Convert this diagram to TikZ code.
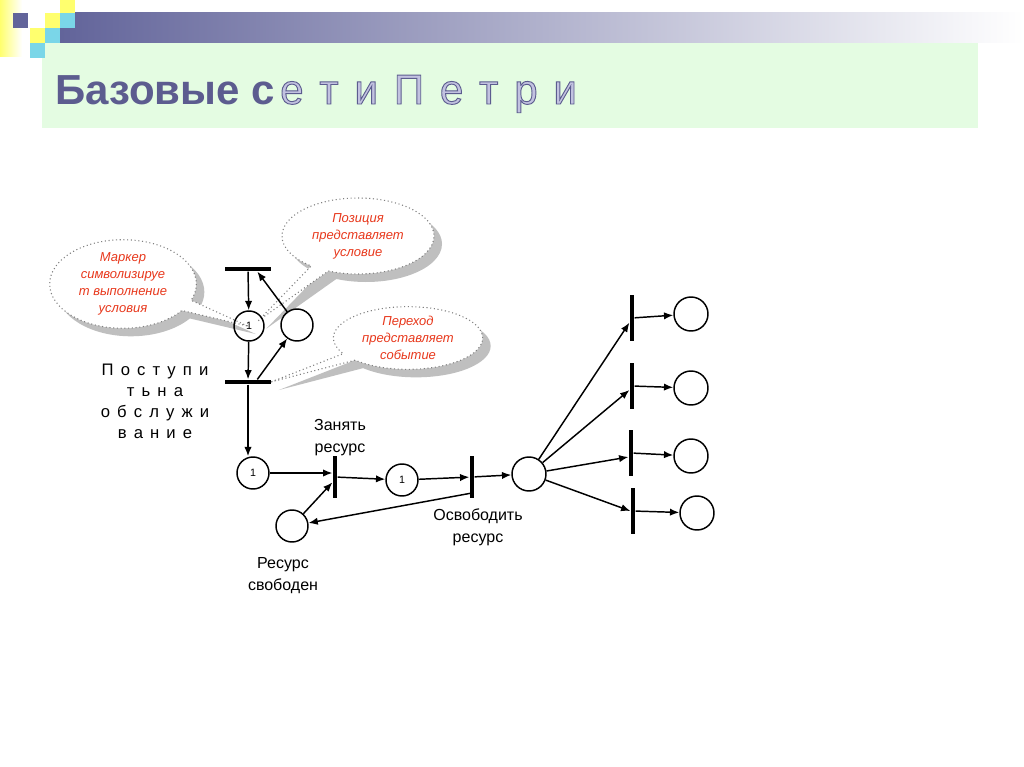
\documentclass[tikz,border=0pt]{standalone}
\usepackage{fontspec}
\setmainfont{Liberation Sans}
\newfontfamily\titlespaced[LetterSpace=10]{Liberation Sans}
\newfontfamily\spacedfont[LetterSpace=15]{Liberation Sans}
\usetikzlibrary{arrows.meta,shapes.callouts,shadows,backgrounds}

\definecolor{hdrblue}{RGB}{98,100,154}
\definecolor{hdrgreen}{RGB}{228,252,226}
\definecolor{hdryellow}{RGB}{255,255,110}
\definecolor{hdrcyan}{RGB}{122,214,232}
\definecolor{titleblue}{RGB}{92,92,143}
\definecolor{notered}{RGB}{232,56,28}

\newcommand\outlined[1]{\special{pdf:literal direct 0.36 0.36 0.56 RG 0.76 0.76 0.88 rg 2 Tr 0.7 w}#1\special{pdf:literal direct 0 Tr}}

\tikzset{
  place/.style={circle,draw,line width=1.1pt,minimum size=24pt,inner sep=0pt,
    font=\fontsize{8}{9}\selectfont},
  hbar/.style={rectangle,fill=black,minimum width=34pt,minimum height=3.5pt,inner sep=0pt},
  vbar/.style={rectangle,fill=black,minimum width=3.5pt,minimum height=31.5pt,inner sep=0pt},
  flow/.style={line width=1.1pt,-{Latex[length=7pt,width=5.5pt]}},
  note/.style={ellipse callout,draw=gray,dotted,line width=0.8pt,fill=white,
    drop shadow={shadow xshift=6pt,shadow yshift=-6pt,fill=black!25,opacity=1},
    font=\fontsize{9.75}{12.75}\selectfont\itshape,text=notered,align=center,inner sep=0pt},
  lbl/.style={font=\fontsize{12}{16.5}\selectfont,align=center,inner sep=0pt}
}

\begin{document}
\begin{tikzpicture}[x=0.75pt,y=-0.75pt]
\useasboundingbox (0,0) rectangle (1024,767);

\shade [left color=hdryellow,right color=white] (0,0) rectangle (22,57);
\shade [left color=hdrblue,right color=white] (60,13) rectangle (1024,43);
\fill [hdrgreen] (42,43) rectangle (978,128);
\fill [hdrblue] (13,13) rectangle (28,28);
\fill [hdryellow] (60,0) rectangle (75,13);
\fill [hdryellow] (45,13) rectangle (60,28);
\fill [hdrcyan] (60,13) rectangle (75,28);
\fill [hdryellow] (30,28) rectangle (45,43);
\fill [hdrcyan] (45,28) rectangle (60,43);
\fill [hdrcyan] (30,43) rectangle (45,58);

\node (title) [anchor=base west,inner sep=0pt,text=titleblue,font=\fontsize{31.5}{36}\selectfont]
  at (55,104) {{\bfseries Базовые с}\hspace{4pt}{\titlespaced\outlined{е т и П е т р и}}};

\node (t1) [hbar] at (248,269) {};
\node (p1) [place,minimum size=22.5pt] at (249,326) {1};
\node (p2) [place] at (297,325) {};
\node (t2) [hbar] at (248,382) {};
\node (p3) [place] at (253,473) {1};
\node (t3) [vbar] at (335,477) {};
\node (p4) [place] at (292,526) {};
\node (p5) [place] at (402,480) {1};
\node (t4) [vbar] at (472,477) {};
\node (p6) [place,minimum size=25.5pt] at (529,474) {};

\node (b1) [vbar,minimum height=35pt] at (632,318) {};
\node (b2) [vbar,minimum height=35pt] at (632,386) {};
\node (b3) [vbar,minimum height=35pt] at (631,453) {};
\node (b4) [vbar,minimum height=35pt] at (633,511) {};
\node (c1) [place,minimum size=25.5pt] at (691,314) {};
\node (c2) [place,minimum size=25.5pt] at (691,388) {};
\node (c3) [place,minimum size=25.5pt] at (691,456) {};
\node (c4) [place,minimum size=25.5pt] at (697,513) {};

\node (arrive) [lbl,font=\spacedfont\fontsize{12.5}{15.75}\selectfont] at (155,401)
  {П о с т у п и\\т ь н а\\о б с л у ж и\\в а н и е};
\node (take) [lbl] at (340,438) {Занять\\ресурс};
\node (release) [lbl] at (478,527) {Освободить\\ресурс};
\node (free) [lbl] at (283,576) {Ресурс\\свободен};

\draw [flow] (t1) -- (p1);
\draw [flow] (p1) -- (t2);
\draw [flow] ([xshift=7pt]t2.north) -- (p2);
\draw [flow] (p2) -- ([xshift=7pt]t1.south);
\draw [flow] (t2) -- (t2 |- p3.north);
\draw [flow] (p3) -- (p3 -| t3.west);
\draw [flow] (p4) -- ([yshift=-4pt]t3.west);
\draw [flow] (t3) -- (p5);
\draw [flow] (p5) -- (t4);
\draw [flow] ([yshift=-12pt]t4.center) -- (p4);
\draw [flow] (t4) -- (p6);
\draw [flow] (p6) -- ([yshift=-3.5pt]b1.west);
\draw [flow] (p6) -- ([yshift=-3pt]b2.west);
\draw [flow] (p6) -- ([yshift=-3pt]b3.west);
\draw [flow] (p6) -- (b4.west);
\draw [flow] (b1) -- (c1);
\draw [flow] (b2) -- (c2);
\draw [flow] (b3) -- (c3);
\draw [flow] (b4) -- (c4);

\begin{scope}[on background layer]
\fill [white] (0,0) rectangle (1024,767);
\node (markernote) [note,minimum width=110pt,minimum height=64pt,
  callout absolute pointer={([xshift=-1pt]p1.center)}] at (123,284)
  {Маркер\\символизируе\\т выполнение\\условия};
\node (placenote) [note,minimum width=114pt,minimum height=57pt,
  callout absolute pointer={([xshift=7pt,yshift=4pt]p1.center)}] at (358,236)
  {Позиция\\представляет\\условие};
\node (transnote) [note,minimum width=112pt,minimum height=47pt,
  callout absolute pointer={(t2.east)}] at (408,338)
  {Переход\\представляет\\событие};
\end{scope}
\end{tikzpicture}
\end{document}
